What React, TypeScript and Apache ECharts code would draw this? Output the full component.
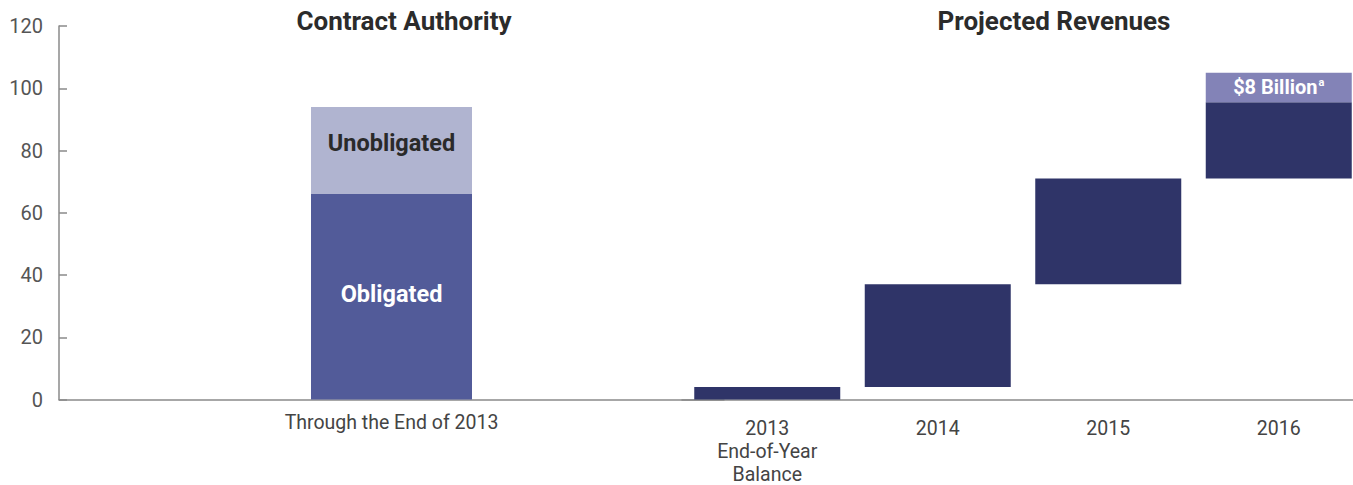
import React, { useEffect, useRef } from "react";
import * as echarts from "echarts";

const authorityCategories = ["Through the End of 2013"];
const obligated = [66];
const unobligated = [28];

const revenueCategories = ["2013\nEnd-of-Year\nBalance", "2014", "2015", "2016"];
const revenueBase = [0, 4, 37, 71];
const revenueTop = [4, 37, 71, 95.5];
const extraTop: (number | null)[] = [null, null, null, 105];

const yMin = 0;
const yMax = 120;
const yInterval = 20;

const titles = ["Contract Authority", "Projected Revenues"];

const BOLD_FONT = "Roboto, 'Liberation Sans', sans-serif";
const REG_FONT = "Roboto, 'Liberation Sans', sans-serif";

export default function App() {
  const ref = useRef<HTMLDivElement>(null);

  useEffect(() => {
    if (!ref.current) return;
    const chart = echarts.init(ref.current, undefined, { renderer: "svg" });

    const revenueHeights = revenueTop.map((t, i) => t - revenueBase[i]);
    const extraHeights = extraTop.map((t, i) => (t == null ? null : t - revenueTop[i]));

    const axisLineStyle = { color: "#8a8a8a", width: 1.5 };

    chart.setOption({
      animation: false,
      backgroundColor: "#ffffff",
      textStyle: { fontFamily: REG_FONT },
      grid: [
        { left: 59, top: 26, width: 665, height: 373.5, outerBoundsMode: "none" },
        { left: 682, top: 26, width: 682, height: 373.5, outerBoundsMode: "none" },
      ],
      graphic: [
        {
          type: "text",
          x: 404,
          y: 21,
          style: {
            text: titles[0],
            fontSize: 26,
            fontWeight: "bold",
            fontFamily: BOLD_FONT,
            fill: "#2b2b2b",
            align: "center",
            verticalAlign: "middle",
          },
        },
        {
          type: "text",
          x: 1054,
          y: 21,
          style: {
            text: titles[1],
            fontSize: 26,
            fontWeight: "bold",
            fontFamily: BOLD_FONT,
            fill: "#2b2b2b",
            align: "center",
            verticalAlign: "middle",
          },
        },
      ],
      xAxis: [
        {
          gridIndex: 0,
          type: "category",
          data: authorityCategories,
          axisLine: { lineStyle: axisLineStyle },
          axisTick: { show: false },
          axisLabel: { fontSize: 19.5, color: "#444", margin: 13, fontFamily: REG_FONT },
        },
        {
          gridIndex: 1,
          type: "category",
          data: revenueCategories,
          axisLine: { lineStyle: axisLineStyle },
          axisTick: { show: false },
          axisLabel: { fontSize: 19.5, color: "#444", margin: 17, lineHeight: 23, fontFamily: REG_FONT },
        },
      ],
      yAxis: [
        {
          gridIndex: 0,
          type: "value",
          min: yMin,
          max: yMax,
          interval: yInterval,
          axisLine: { show: true, lineStyle: axisLineStyle },
          axisTick: { show: true, inside: true, length: 8, lineStyle: axisLineStyle },
          splitLine: { show: false },
          axisLabel: { fontSize: 20, color: "#555", margin: 16, fontFamily: REG_FONT },
        },
        {
          gridIndex: 1,
          type: "value",
          min: yMin,
          max: yMax,
          interval: yInterval,
          show: false,
          splitLine: { show: false },
        },
      ],
      series: [
        {
          name: "Obligated",
          type: "bar",
          xAxisIndex: 0,
          yAxisIndex: 0,
          stack: "authority",
          barWidth: 161,
          data: obligated,
          itemStyle: { color: "#525B99" },
          label: {
            show: true,
            position: "inside",
            formatter: "Obligated",
            color: "#ffffff",
            fontSize: 23.5,
            fontWeight: "bold",
            fontFamily: BOLD_FONT,
            offset: [0, -3],
          },
        },
        {
          name: "Unobligated",
          type: "bar",
          xAxisIndex: 0,
          yAxisIndex: 0,
          stack: "authority",
          barWidth: 161,
          data: unobligated,
          itemStyle: { color: "#B0B4D0" },
          label: {
            show: true,
            position: "inside",
            formatter: "Unobligated",
            color: "#2a2a2a",
            fontSize: 23.5,
            fontWeight: "bold",
            fontFamily: BOLD_FONT,
            offset: [0, -8],
          },
        },
        {
          name: "base",
          type: "bar",
          xAxisIndex: 1,
          yAxisIndex: 1,
          stack: "revenue",
          barWidth: 146,
          data: revenueBase,
          itemStyle: { color: "transparent" },
          silent: true,
        },
        {
          name: "Projected Revenues",
          type: "bar",
          xAxisIndex: 1,
          yAxisIndex: 1,
          stack: "revenue",
          barWidth: 146,
          data: revenueHeights,
          itemStyle: { color: "#2F3468" },
        },
        {
          name: "Extra",
          type: "bar",
          xAxisIndex: 1,
          yAxisIndex: 1,
          stack: "revenue",
          barWidth: 146,
          data: extraHeights,
          itemStyle: { color: "#8383B7" },
          label: {
            show: true,
            position: "inside",
            formatter: "{main|$8 Billion}{sup|a}",
            rich: {
              main: { color: "#ffffff", fontSize: 20, fontWeight: "bold", fontFamily: BOLD_FONT },
              sup: { color: "#ffffff", fontSize: 11, fontWeight: "bold", fontFamily: BOLD_FONT, padding: [0, 0, 10, 1] },
            },
          },
        },
      ],
    });

    return () => chart.dispose();
  }, []);

  return (
    <div
      ref={ref}
      style={{ position: "fixed", left: 0, top: 0, width: 1353, height: 485, background: "#fff" }}
    />
  );
}
